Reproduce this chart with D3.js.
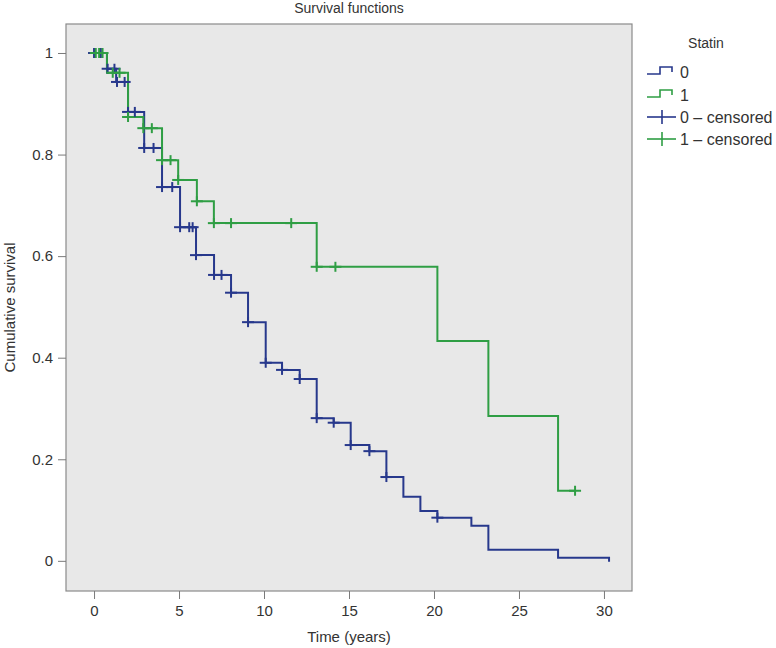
<!DOCTYPE html>
<html>
<head>
<meta charset="utf-8">
<script src="https://cdn.jsdelivr.net/npm/d3@7"></script>
<style>
  html, body { margin: 0; padding: 0; background: #ffffff; }
  svg { display: block; font-family: "Liberation Sans", Arial, Helvetica, sans-serif; }
</style>
</head>
<body>
<svg id="chart" width="776" height="648"></svg>
<script>
// ---- Data ----
const chartTitle = "Survival functions";
const xTitle = "Time (years)";
const yTitle = "Cumulative survival";
const legendTitle = "Statin";
const groups = ["0", "1"];

// Statin = 0
const eventTimes0 = [0.76, 1.3, 2.0, 2.95, 4.0, 5.06, 6.0, 7.06, 8.06, 9.06, 10.1, 11.06, 12.1, 13.1, 14.1, 15.1, 16.2, 17.2, 18.2, 19.2, 20.2, 22.2, 23.2, 27.3, 30.3];
const survival0   = [0.969, 0.943, 0.884, 0.813, 0.736, 0.657, 0.602, 0.563, 0.528, 0.47, 0.39, 0.376, 0.358, 0.281, 0.272, 0.228, 0.216, 0.165, 0.126, 0.098, 0.085, 0.069, 0.022, 0.006, 0];
const censorTimes0 = [0.0, 0.4, 0.8, 1.2, 1.35, 1.8, 2.0, 2.4, 2.95, 3.5, 4.0, 4.6, 5.06, 5.6, 5.8, 6.0, 7.06, 7.5, 8.06, 9.06, 10.1, 11.06, 12.1, 13.1, 14.1, 15.1, 16.2, 17.2, 20.2];

// Statin = 1
const eventTimes1 = [0.76, 2.0, 2.9, 4.0, 4.95, 6.05, 7.05, 13.1, 20.2, 23.2, 27.3];
const survival1   = [0.961, 0.874, 0.852, 0.789, 0.75, 0.708, 0.665, 0.579, 0.433, 0.285, 0.138];
const censorTimes1 = [0.1, 0.3, 0.5, 1.1, 1.5, 2.0, 2.9, 3.4, 4.0, 4.5, 4.95, 6.05, 7.05, 8.06, 11.6, 13.1, 14.2, 28.3];

const xTicks = [0, 5, 10, 15, 20, 25, 30];
const yTicks = [0, 0.2, 0.4, 0.6, 0.8, 1];

const colors = { "0": "#27388c", "1": "#2f9e44" };

// ---- Layout ----
const svg = d3.select("#chart");
const panel = { left: 66, right: 632, top: 24, bottom: 591 };

const x = d3.scaleLinear().domain([-1.65, 31.65]).range([panel.left, panel.right]);
const y = d3.scaleLinear().domain([-0.0594, 1.0571]).range([panel.bottom, panel.top]);

const textColor = "#333333";
const axisColor = "#7a7a7a";

// panel background
svg.append("rect")
  .attr("x", panel.left).attr("y", panel.top)
  .attr("width", panel.right - panel.left).attr("height", panel.bottom - panel.top)
  .attr("fill", "#e8e8e8").attr("stroke", "#8a8a8a").attr("stroke-width", 1.2);

// axes
const xAxis = d3.axisBottom(x).tickValues(xTicks).tickSize(8).tickPadding(6).tickFormat(d3.format("d"));
const gx = svg.append("g").attr("transform", `translate(0,${panel.bottom})`).call(xAxis);
gx.select(".domain").remove();
gx.selectAll("line").attr("stroke", axisColor);
gx.selectAll("text").attr("fill", textColor).attr("font-size", 15).attr("font-family", "Liberation Sans, Arial, sans-serif");

const yAxis = d3.axisLeft(y).tickValues(yTicks).tickSize(8).tickPadding(5).tickFormat(d => d === 0 || d === 1 ? String(d) : d3.format(".1f")(d));
const gy = svg.append("g").attr("transform", `translate(${panel.left},0)`).call(yAxis);
gy.select(".domain").remove();
gy.selectAll("line").attr("stroke", axisColor);
gy.selectAll("text").attr("fill", textColor).attr("font-size", 15).attr("font-family", "Liberation Sans, Arial, sans-serif");

// titles
svg.append("text").attr("x", (panel.left + panel.right) / 2).attr("y", 13)
  .attr("text-anchor", "middle").attr("font-size", 14).attr("fill", textColor).text(chartTitle);
svg.append("text").attr("x", (panel.left + panel.right) / 2).attr("y", 642)
  .attr("text-anchor", "middle").attr("font-size", 15).attr("fill", textColor).text(xTitle);
svg.append("text").attr("transform", `translate(15,${(panel.top + panel.bottom) / 2}) rotate(-90)`)
  .attr("text-anchor", "middle").attr("font-size", 15).attr("fill", textColor).text(yTitle);

// ---- Curves ----
function buildCurve(times, surv, censors) {
  const pts = [[0, 1]];
  times.forEach((t, i) => pts.push([t, surv[i]]));
  const lastT = times[times.length - 1];
  const lastC = d3.max(censors);
  if (lastC > lastT) pts.push([lastC, surv[surv.length - 1]]);
  return pts;
}
function survAt(times, surv, t) {
  let s = 1;
  times.forEach((et, i) => { if (et <= t + 1e-9) s = surv[i]; });
  return s;
}

const series = [
  { key: "0", times: eventTimes0, surv: survival0, censors: censorTimes0 },
  { key: "1", times: eventTimes1, surv: survival1, censors: censorTimes1 }
];

const line = d3.line().x(d => x(d[0])).y(d => y(d[1])).curve(d3.curveStepAfter);

const plot = svg.append("g");
series.forEach(s => {
  plot.append("path")
    .datum(buildCurve(s.times, s.surv, s.censors))
    .attr("d", line)
    .attr("fill", "none")
    .attr("stroke", colors[s.key])
    .attr("stroke-width", 2)
    .attr("stroke-linejoin", "miter")
    .attr("stroke-linecap", "square");
});

const cs = 5;
series.forEach(s => {
  const g = plot.append("g");
  s.censors.forEach(t => {
    const cx = x(t), cy = y(survAt(s.times, s.surv, t));
    g.append("line").attr("x1", cx - cs - 1).attr("x2", cx + cs + 1).attr("y1", cy).attr("y2", cy)
      .attr("stroke", colors[s.key]).attr("stroke-width", 2);
    g.append("line").attr("x1", cx).attr("x2", cx).attr("y1", cy - cs).attr("y2", cy + cs)
      .attr("stroke", colors[s.key]).attr("stroke-width", 2);
  });
});

// ---- Legend ----
const lg = svg.append("g");
lg.append("text").attr("x", 706).attr("y", 48).attr("text-anchor", "middle")
  .attr("font-size", 14).attr("fill", textColor).text(legendTitle);

const legendItems = [
  { label: "0", key: "0", type: "step" },
  { label: "1", key: "1", type: "step" },
  { label: "0 \u2013 censored", key: "0", type: "cross" },
  { label: "1 \u2013 censored", key: "1", type: "cross" }
];
const rowY = [72, 95, 117, 139];
legendItems.forEach((it, i) => {
  const cy = rowY[i];
  if (it.type === "step") {
    lg.append("path")
      .attr("d", `M647,${cy + 2} H660 V${cy - 5} H672 V${cy}`)
      .attr("fill", "none").attr("stroke", colors[it.key]).attr("stroke-width", 1.6);
  } else {
    lg.append("line").attr("x1", 647).attr("x2", 676).attr("y1", cy).attr("y2", cy)
      .attr("stroke", colors[it.key]).attr("stroke-width", 1.6);
    lg.append("line").attr("x1", 662).attr("x2", 662).attr("y1", cy - 7).attr("y2", cy + 7)
      .attr("stroke", colors[it.key]).attr("stroke-width", 1.6);
  }
  lg.append("text").attr("x", 680).attr("y", cy + 5.5)
    .attr("font-size", 16).attr("fill", textColor).text(it.label);
});
</script>
</body>
</html>
